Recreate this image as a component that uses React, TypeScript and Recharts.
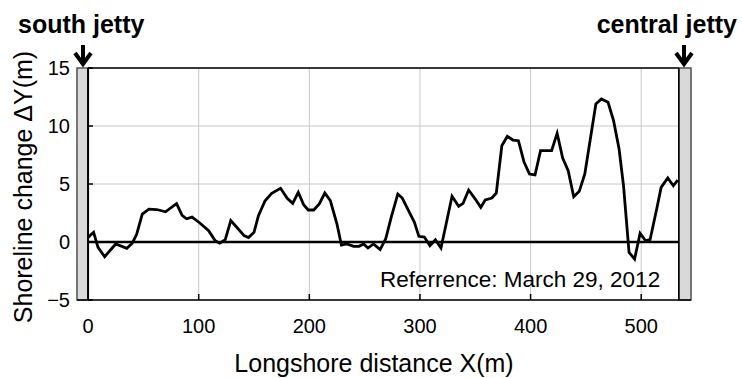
import React from "react";
import {
  ComposedChart,
  Line,
  XAxis,
  YAxis,
  CartesianGrid,
  ReferenceArea,
  ReferenceLine,
} from "recharts";

// longshore distance (m) and shoreline change (m)
const distance = [
  0, 5, 9, 15, 25, 35, 40, 44, 49, 55, 62, 70, 80, 85, 89, 94, 101, 109, 115,
  119, 124, 129, 136, 141, 145, 150, 154, 160, 166, 174, 180, 185, 190, 195,
  199, 204, 209, 214, 219, 225, 229, 234, 240, 245, 249, 253, 258, 264, 269,
  274, 280, 284, 289, 295, 299, 304, 309, 314, 319, 324, 329, 335, 339, 344,
  350, 355, 359, 365, 369, 374, 379, 384, 389, 394, 399, 404, 409, 419, 424,
  429, 434, 439, 444, 449, 454, 459, 464, 470, 475, 480, 484, 489, 494, 499,
  504, 508, 514, 518, 524, 529, 533,
];
const change = [
  0.4, 0.84, -0.46, -1.27, -0.17, -0.55, -0.1, 0.69, 2.4, 2.84, 2.8, 2.6, 3.3,
  2.3, 2.0, 2.15, 1.64, 0.97, 0.1, -0.1, 0.2, 1.84, 1.1, 0.55, 0.38, 0.83,
  2.27, 3.56, 4.2, 4.63, 3.77, 3.33, 4.28, 3.19, 2.76, 2.76, 3.28, 4.22, 3.56,
  1.55, -0.26, -0.17, -0.37, -0.37, -0.17, -0.52, -0.17, -0.66, 0.26, 2.13,
  4.14, 3.79, 2.84, 1.7, 0.49, 0.43, -0.32, 0.2, -0.52, 1.7, 3.94, 3.08, 3.33,
  4.48, 3.7, 2.99, 3.62, 3.79, 4.22, 8.3, 9.11, 8.79, 8.73, 6.92, 5.86, 5.78,
  7.87, 7.87, 9.37, 7.24, 6.15, 3.9, 4.37, 5.86, 8.88, 11.9, 12.33, 12.04,
  10.46, 8.02, 4.85, -0.89, -1.47, 0.75, 0.11, 0.2, 2.84, 4.71, 5.52, 4.85,
  5.34,
];

const xTicks = [0, 100, 200, 300, 400, 500];
const yTicks = [-5, 0, 5, 10, 15];
const southJetty = [-10, 0];
const centralJetty = [534, 545];

const FONT = '"Liberation Sans", Arial, sans-serif';

const data = distance.map((x, i) => ({ x, dy: change[i] }));

function XTick(props: any) {
  const { x, y, payload } = props;
  return (
    <g>
      {payload.value !== 0 && (
        <line x1={x} x2={x} y1={y} y2={y - 6} stroke="#000" strokeWidth={1.5} />
      )}
      <text x={x} y={y + 33} textAnchor="middle" fontSize={20} fontFamily={FONT} fill="#000">
        {payload.value}
      </text>
    </g>
  );
}

function YTick(props: any) {
  const { x, y, payload } = props;
  const v = payload.value;
  return (
    <g>
      <line x1={x + 11} x2={x + 16} y1={y} y2={y} stroke="#000" strokeWidth={1.5} />
      <text
        x={x - 7}
        y={y}
        textAnchor="end"
        dominantBaseline="central"
        fontSize={20}
        fontFamily={FONT}
        fill="#000"
      >
        {v < 0 ? "\u2212" + Math.abs(v) : v}
      </text>
    </g>
  );
}

function Arrow({ cx }: { cx: number }) {
  return (
    <g stroke="#000" strokeWidth={4} fill="none">
      <line x1={cx} x2={cx} y1={45} y2={63} />
      <polyline points={`${cx - 8},53 ${cx},64 ${cx + 8},53`} strokeLinejoin="miter" />
    </g>
  );
}

export default function App() {
  return (
    <div style={{ position: "absolute", left: 0, top: 0, width: 742, height: 378, background: "#fff" }}>
      <ComposedChart
        width={742}
        height={378}
        data={data}
        margin={{ top: 68, right: 51, bottom: 38, left: 0 }}
      >
        <CartesianGrid stroke="#c8c8c8" strokeWidth={1} />
        <XAxis
          type="number"
          dataKey="x"
          domain={[-10, 545]}
          ticks={xTicks}
          allowDataOverflow
          height={40}
          tickSize={0}
          tickMargin={0}
          tick={<XTick />}
          axisLine={{ stroke: "#000", strokeWidth: 1.5 }}
          interval={0}
        />
        <YAxis
          type="number"
          domain={[-5, 15]}
          ticks={yTicks}
          allowDataOverflow
          width={77}
          tickSize={0}
          tickMargin={0}
          tick={<YTick />}
          axisLine={false}
          interval={0}
        />
        <ReferenceArea
          x1={southJetty[0]}
          x2={southJetty[1]}
          y1={-5}
          y2={15}
          fill="#d9d9d9"
          fillOpacity={1}
          stroke="#555"
          strokeWidth={1.5}
        />
        <ReferenceArea
          x1={centralJetty[0]}
          x2={centralJetty[1]}
          y1={-5}
          y2={15}
          fill="#d9d9d9"
          fillOpacity={1}
          stroke="#555"
          strokeWidth={1.5}
        />
        <ReferenceLine
          segment={[{ x: 0, y: 15 }, { x: 534, y: 15 }]}
          stroke="#000"
          strokeWidth={1.5}
        />
        <ReferenceLine x={0} stroke="#000" strokeWidth={2} />
        <ReferenceLine x={534} stroke="#000" strokeWidth={1.5} />
        <ReferenceLine
          segment={[{ x: 0, y: 0 }, { x: 534, y: 0 }]}
          stroke="#000"
          strokeWidth={2.5}
        />
        <Line
          type="linear"
          dataKey="dy"
          stroke="#000"
          strokeWidth={2.8}
          dot={false}
          isAnimationActive={false}
        />
      </ComposedChart>
      <svg
        width={742}
        height={378}
        style={{ position: "absolute", left: 0, top: 0, pointerEvents: "none" }}
      >
        <text x={18} y={33} fontSize={25} fontWeight="bold" fontFamily={FONT} fill="#000">
          south jetty
        </text>
        <text x={737} y={33} textAnchor="end" fontSize={25} fontWeight="bold" fontFamily={FONT} fill="#000">
          central jetty
        </text>
        <Arrow cx={83} />
        <Arrow cx={684} />
        <text x={380} y={287} fontSize={22.5} fontFamily={FONT} fill="#000">
          Referrence: March 29, 2012
        </text>
        <text x={374} y={372} textAnchor="middle" fontSize={25} fontFamily={FONT} fill="#000">
          Longshore distance X(m)
        </text>
        <text
          x={32}
          y={187}
          textAnchor="middle"
          fontSize={25}
          fontFamily={FONT}
          fill="#000"
          transform="rotate(-90 32 187)"
        >
          Shoreline change ΔY(m)
        </text>
      </svg>
    </div>
  );
}
